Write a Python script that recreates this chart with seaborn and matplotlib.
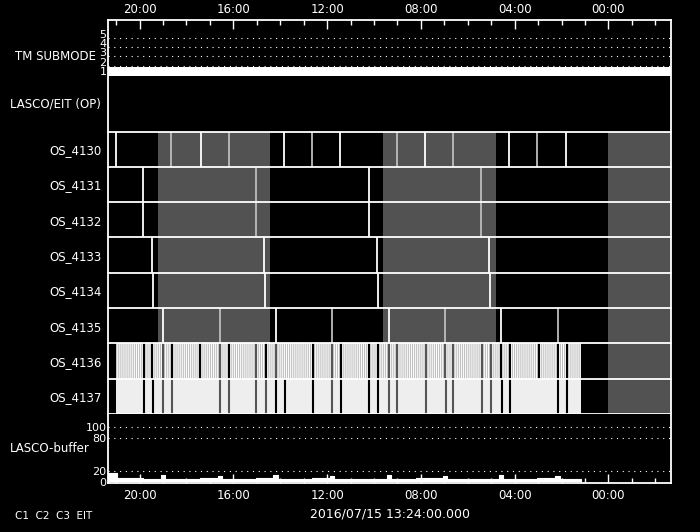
import matplotlib.pyplot as plt
import seaborn as sns

# time axis runs backwards: 21:20 on the left, 21:20 of the previous day on the right
t_left, t_right = 21.333, -2.667
major_hours = [20, 16, 12, 8, 4, 0]
major_labels = ['20:00', '16:00', '12:00', '08:00', '04:00', '00:00']
minor_hours = list(range(-2, 22))

# TM submode
tm_hours = [21.333, -2.667]
tm_mode = [1, 1]
tm_levels = [1, 2, 3, 4, 5]

os_names = ['OS_4130', 'OS_4131', 'OS_4132', 'OS_4133',
            'OS_4134', 'OS_4135', 'OS_4136', 'OS_4137']

# shaded periods (hours)
shade_periods = [(14.44, 19.21), (4.80, 9.62), (-2.667, 0.02)]
night_period = (-2.667, 0.02)
busy_period = (1.18, 21.0)

# event times per row (hours)
ev_4130_white = [21.02, 17.39, 13.83, 11.44, 7.82, 4.23, 1.80]
ev_4130_grey = [18.65, 16.20, 12.63, 9.01, 6.62, 3.04]
ev_4131_white = [19.84, 10.23]
ev_4131_grey = [15.02, 5.43]
ev_4132_white = [19.84, 10.20]
ev_4132_grey = [15.02, 5.43]
ev_4133_white = [19.47, 14.68, 9.86, 5.08]
ev_4134_white = [19.43, 14.65, 9.84, 5.04]
ev_4135_white = [19.01, 14.20, 9.35, 4.59]
ev_4135_grey = [16.57, 11.79, 6.97, 2.17]
ev_4136_black = [19.80, 19.46, 18.62, 17.41, 16.20, 14.62, 12.62, 11.42,
                 10.20, 9.84, 4.59, 4.19, 2.97, 2.17, 1.78]
ev_4136_dark = [19.00, 16.58, 15.02, 14.20, 11.79, 9.36, 9.01, 7.80,
                6.97, 6.62, 5.38, 5.03]
ev_4137_black = [19.80, 19.42, 14.17, 13.80, 12.62, 11.42, 10.20, 9.84,
                 4.56, 4.20, 2.17, 1.78]
ev_4137_dark = [18.99, 18.63, 16.58, 16.20, 15.02, 14.62, 11.79, 9.36,
                9.01, 7.80, 6.94, 6.62, 5.41, 5.03]

# LASCO buffer fill level (step, hours)
buf_hours = [21.33, 20.98, 19.84, 19.10, 18.92, 18.62, 17.41, 16.66, 16.48, 15.02,
             14.29, 14.11, 13.83, 12.63, 11.88, 11.70, 10.20, 9.44, 9.26, 8.20,
             7.06, 6.88, 6.62, 5.43, 4.68, 4.50, 3.04, 2.26, 2.08, 1.19]
buf_fill = [16, 7, 5, 12, 6, 5, 7, 11, 6, 7,
            12, 6, 5, 7, 11, 6, 5, 12, 6, 7,
            11, 6, 5, 6, 12, 6, 7, 11, 6, 0]
buf_levels = [0, 20, 80, 100]
buf_dotted = [20, 80, 100]

sns.set_theme(style='ticks', rc={
    'figure.facecolor': 'black', 'axes.facecolor': 'black',
    'savefig.facecolor': 'black', 'axes.edgecolor': 'white',
    'text.color': 'white', 'xtick.color': 'white', 'ytick.color': 'white',
    'axes.axisbelow': False, 'axes.grid': False, 'hatch.linewidth': 0.7,
})
plt.rcParams['font.family'] = ['DejaVu Sans']

W, H = 700, 532
X0, X1 = 108.3, 671
shade_col = '#525252'
dots = (0, (1, 4.2))

fig = plt.figure(figsize=(7, 5.32), dpi=100)


def panel(top, bottom):
    ax = fig.add_axes([X0 / W, 1 - bottom / H, (X1 - X0) / W, (bottom - top) / H])
    ax.set_xlim(t_left, t_right)
    ax.set_facecolor('black')
    for s in ax.spines.values():
        s.set_visible(False)
    ax.tick_params(axis='x', which='both', bottom=False, top=False, labelbottom=False)
    ax.tick_params(axis='y', length=0, labelsize=8, colors='white')
    return ax


# TM submode panel
ax_tm = panel(19.5, 76)
ax_tm.set_ylim(0.9, 6.97)
ax_tm.plot(tm_hours, tm_mode, color='white', lw=11.5, solid_capstyle='butt')
for lv in tm_levels[1:]:
    ax_tm.axhline(lv, color='white', lw=0.8, ls=dots)
ax_tm.set_yticks(tm_levels)
ax_tm.set_yticklabels(tm_levels, va='baseline')
ax_tm.tick_params(axis='y', pad=1.2)

# OS rows
ax_os = panel(131.5, 413.9)
ax_os.set_ylim(8, 0)
for i in range(6):
    for lo, hi in shade_periods:
        ax_os.barh(i + 0.5, hi - lo, left=lo, height=1, color=shade_col, lw=0)
lo, hi = busy_period
ax_os.barh(6.5, hi - lo, left=lo, height=1, color='#c0c0c0', edgecolor='white',
           hatch='|' * 8, lw=0)
ax_os.barh(7.5, hi - lo, left=lo, height=1, color='#eeeeee', lw=0)
for r in (6.5, 7.5):
    ax_os.barh(r, night_period[1] - night_period[0], left=night_period[0],
               height=1, color=shade_col, lw=0)

white_rows = [ev_4130_white, ev_4131_white, ev_4132_white, ev_4133_white,
              ev_4134_white, ev_4135_white]
grey_rows = [ev_4130_grey, ev_4131_grey, ev_4132_grey, [], [], ev_4135_grey]
for i, ev in enumerate(white_rows):
    ax_os.vlines(ev, i, i + 1, colors='white', lw=1.3)
for i, ev in enumerate(grey_rows):
    ax_os.vlines(ev, i, i + 1, colors='#bdbdbd', lw=1.3)
ax_os.vlines(ev_4136_black, 6, 7, colors='black', lw=1.5)
ax_os.vlines(ev_4136_dark, 6, 7, colors='#555555', lw=1.5)
ax_os.vlines(ev_4137_black, 7, 8, colors='black', lw=1.5)
ax_os.vlines(ev_4137_dark, 7, 8, colors='#555555', lw=1.5)
for y in range(9):
    ax_os.axhline(y, color='white', lw=1.3, clip_on=False)
ax_os.set_yticks([i + 0.5 for i in range(len(os_names))])
ax_os.set_yticklabels(os_names, fontsize=8.5)
ax_os.tick_params(axis='y', pad=5)

# LASCO buffer
ax_buf = panel(413.9, 483.3)
ax_buf.set_ylim(-2.4, 123.8)
ax_buf.fill_between(buf_hours, 0, buf_fill, step='post', color='white', lw=0)
sns.lineplot(x=buf_hours, y=buf_fill, ax=ax_buf, drawstyle='steps-post',
             color='white', lw=0.8, sort=False, estimator=None)
for lv in buf_dotted:
    ax_buf.axhline(lv, color='white', lw=0.8, ls=dots)
ax_buf.set_yticks(buf_levels)
ax_buf.set_yticklabels(buf_levels)
ax_buf.tick_params(axis='y', pad=1.2)
ax_buf.set_xticks(major_hours)
ax_buf.set_xticklabels(major_labels)
ax_buf.set_xticks(minor_hours, minor=True)
ax_buf.tick_params(axis='x', which='both', bottom=True, labelbottom=True,
                   direction='in', color='white', labelcolor='white',
                   labelsize=8.5, pad=4, width=1)
ax_buf.tick_params(axis='x', which='major', length=6.5)
ax_buf.tick_params(axis='x', which='minor', length=3.6)
ax_buf.set_xlabel('')
ax_buf.set_ylabel('')

# outer frame with top time axis
frame = fig.add_axes([X0 / W, 1 - 483.3 / H, (X1 - X0) / W, (483.3 - 19.5) / H])
frame.set_facecolor('none')
frame.set_zorder(10)
frame.set_xlim(t_left, t_right)
frame.set_yticks([])
frame.set_xticks(major_hours)
frame.set_xticklabels(major_labels)
frame.set_xticks(minor_hours, minor=True)
frame.tick_params(axis='x', which='both', top=True, labeltop=True, bottom=False,
                  labelbottom=False, direction='in', color='white',
                  labelcolor='white', labelsize=8.5, pad=2.5, width=1)
frame.tick_params(axis='x', which='major', length=6.5)
frame.tick_params(axis='x', which='minor', length=3.6)
for s in frame.spines.values():
    s.set_color('white')
    s.set_linewidth(1.3)

# labels
fig.text(96 / W, 1 - 57 / H, 'TM SUBMODE', ha='right', va='center', fontsize=8.5)
fig.text(101 / W, 1 - 104 / H, 'LASCO/EIT (OP)', ha='right', va='center', fontsize=8.5)
fig.text(90 / W, 1 - 449 / H, 'LASCO-buffer', ha='right', va='center', fontsize=8.5)
fig.text(15 / W, 1 - 516 / H, 'C1  C2  C3  EIT', ha='left', va='center', fontsize=7.5)
fig.text((X0 + X1) / 2 / W, 1 - 514 / H, '2016/07/15 13:24:00.000',
         ha='center', va='center', fontsize=9)

fig.savefig('out.png', dpi=100, facecolor='black')
